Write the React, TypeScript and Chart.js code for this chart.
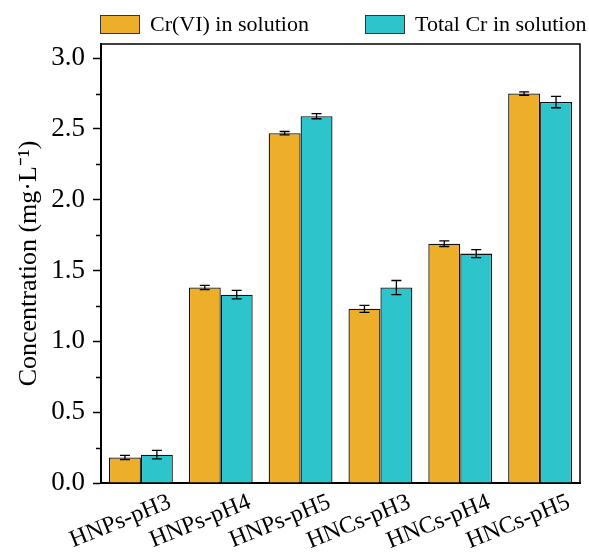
import React, { useEffect, useRef } from "react";
import { Chart, registerables } from "chart.js";

Chart.register(...registerables);

const categories = ["HNPs-pH3", "HNPs-pH4", "HNPs-pH5", "HNCs-pH3", "HNCs-pH4", "HNCs-pH5"];
const seriesNames = ["Cr(VI) in solution", "Total Cr in solution"];
const cr6Values = [0.18, 1.38, 2.47, 1.23, 1.69, 2.75];
const cr6Errors = [0.015, 0.015, 0.012, 0.025, 0.02, 0.012];
const totalValues = [0.2, 1.33, 2.59, 1.38, 1.62, 2.69];
const totalErrors = [0.03, 0.03, 0.018, 0.05, 0.028, 0.04];
const yTicks = [0, 0.5, 1.0, 1.5, 2.0, 2.5, 3.0];
const yMinorTicks = [0.25, 0.75, 1.25, 1.75, 2.25, 2.75];
const seriesColors = ["#EDAE2A", "#2DC4CB"];

const FONT = "'Liberation Serif', 'Times New Roman', serif";

const errorBarPlugin = {
  id: "errorBars",
  afterDatasetsDraw(chart: any) {
    const ctx = chart.ctx;
    const yScale = chart.scales.y;
    const errs = [cr6Errors, totalErrors];
    ctx.save();
    ctx.strokeStyle = "#000";
    ctx.lineWidth = 1.3;
    chart.data.datasets.forEach((ds: any, di: number) => {
      const meta = chart.getDatasetMeta(di);
      meta.data.forEach((bar: any, i: number) => {
        const v = ds.data[i];
        const e = errs[di][i];
        const x = bar.x;
        const yT = yScale.getPixelForValue(v + e);
        const yB = yScale.getPixelForValue(v - e);
        const cap = 5;
        ctx.beginPath();
        ctx.moveTo(x, yT);
        ctx.lineTo(x, yB);
        ctx.moveTo(x - cap, yT);
        ctx.lineTo(x + cap, yT);
        ctx.moveTo(x - cap, yB);
        ctx.lineTo(x + cap, yB);
        ctx.stroke();
      });
    });
    ctx.restore();
  },
};

const framePlugin = {
  id: "frame",
  afterDraw(chart: any) {
    const { ctx, chartArea } = chart;
    const yScale = chart.scales.y;
    ctx.save();
    ctx.strokeStyle = "#000";
    ctx.lineWidth = 1.5;
    ctx.beginPath();
    ctx.moveTo(chartArea.left, chartArea.top);
    ctx.lineTo(chartArea.right, chartArea.top);
    ctx.lineTo(chartArea.right, chartArea.bottom);
    ctx.stroke();
    ctx.lineWidth = 1.5;
    ctx.beginPath();
    yMinorTicks.forEach((v) => {
      const y = Math.round(yScale.getPixelForValue(v)) + 0.5;
      ctx.moveTo(chartArea.left - 5, y);
      ctx.lineTo(chartArea.left, y);
    });
    ctx.stroke();
    ctx.font = `22px ${FONT}`;
    ctx.textBaseline = "middle";
    const offsets = [0, 265];
    seriesNames.forEach((name, i) => {
      const bx = chartArea.left - 1 + offsets[i];
      const by = 15;
      ctx.fillStyle = seriesColors[i];
      ctx.fillRect(bx, by, 40, 19);
      ctx.strokeStyle = "#333";
      ctx.lineWidth = 1;
      ctx.strokeRect(bx + 0.5, by + 0.5, 39, 18);
      ctx.fillStyle = "#000";
      ctx.fillText(name, bx + 50, by + 10);
    });
    ctx.restore();
  },
};

export default function App() {
  const canvasRef = useRef<HTMLCanvasElement | null>(null);

  useEffect(() => {
    if (!canvasRef.current) return;
    const chart = new Chart(canvasRef.current, {
      type: "bar",
      data: {
        labels: categories,
        datasets: [
          {
            label: seriesNames[0],
            data: cr6Values,
            backgroundColor: seriesColors[0],
            borderColor: "#111",
            borderWidth: 1.3,
            categoryPercentage: 0.8,
            barPercentage: 1.0,
          },
          {
            label: seriesNames[1],
            data: totalValues,
            backgroundColor: seriesColors[1],
            borderColor: "#111",
            borderWidth: 1.3,
            categoryPercentage: 0.8,
            barPercentage: 1.0,
          },
        ],
      },
      options: {
        animation: false,
        responsive: true,
        maintainAspectRatio: false,
        layout: { padding: { top: 44, right: 9, left: 0, bottom: 0 } },
        plugins: {
          legend: { display: false },
          tooltip: { enabled: false },
        },
        scales: {
          x: {
            grid: { display: false, drawTicks: false },
            border: { display: true, color: "#000", width: 2 },
            ticks: {
              color: "#000",
              font: { family: FONT, size: 24 },
              minRotation: 22,
              maxRotation: 22,
              autoSkip: false,
              labelOffset: 29,
              padding: 5,
            },
            afterFit(scale: any) {
              scale.height = 73;
            },
          },
          y: {
            min: 0,
            max: 3.1,
            afterBuildTicks(scale: any) {
              scale.ticks = yTicks.map((v) => ({ value: v }));
            },
            grid: {
              drawOnChartArea: false,
              drawTicks: true,
              tickLength: 8,
              tickWidth: 1.5,
              tickColor: "#000",
            },
            border: { display: true, color: "#000", width: 2 },
            ticks: {
              color: "#000",
              font: { family: FONT, size: 27 },
              padding: 8,
              callback: (v: any) => Number(v).toFixed(1),
            },
            title: {
              display: true,
              text: "Concentration (mg·L⁻¹)",
              color: "#000",
              font: { family: FONT, size: 26 },
              padding: { top: 14, bottom: 0 },
            },
            afterFit(scale: any) {
              scale.width = 101;
            },
          },
        },
      },
      plugins: [errorBarPlugin, framePlugin],
    });
    return () => chart.destroy();
  }, []);

  return (
    <div style={{ position: "fixed", left: 0, top: 0, width: 589, height: 556, background: "#fff" }}>
      <canvas ref={canvasRef} />
    </div>
  );
}
